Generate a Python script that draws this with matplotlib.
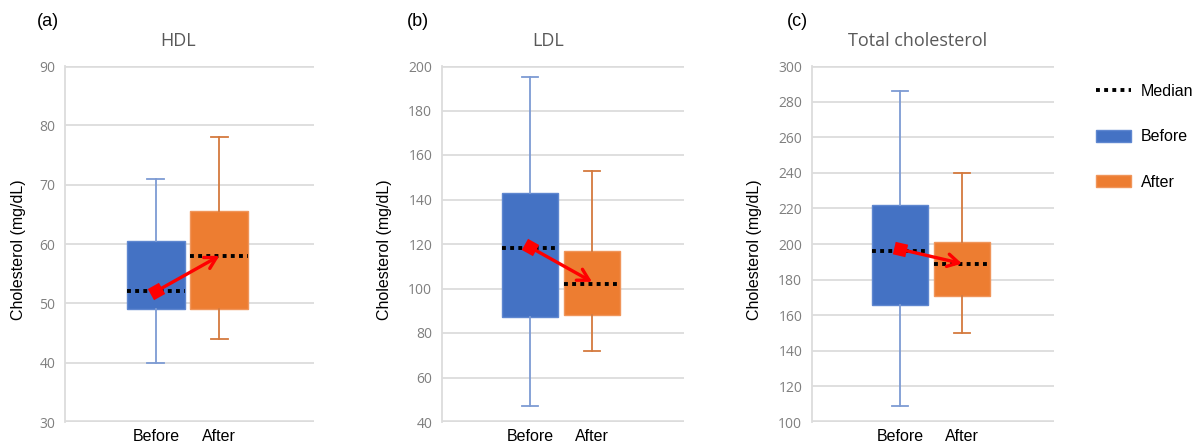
import math
import matplotlib
matplotlib.use("Agg")
import matplotlib.pyplot as plt
from matplotlib.lines import Line2D
from matplotlib.patches import Patch

# ---- data ----
panels = ["(a)", "(b)", "(c)"]
titles = ["HDL", "LDL", "Total cholesterol"]
groups = ["Before", "After"]
whislo = [[40, 44], [47, 72], [109, 150]]
q1 = [[49, 49], [87, 88], [166, 171]]
med = [[52, 58], [118, 102], [196, 188.5]]
q3 = [[60.5, 65.5], [143, 117], [222, 201]]
whishi = [[71, 78], [195, 153], [286, 240]]
means = [[52, 58], [118.5, 103], [197, 189]]
ylims = [(30, 90), (40, 200), (100, 300)]
ysteps = [10, 20, 20]

# ---- style ----
W, H = 1194, 447
fig = plt.figure(figsize=(W / 100, H / 100), dpi=100)
fill = ["#4472C4", "#ED7D31"]
edge = ["#5f87d0", "#f0955a"]
whisk = ["#7d9bd3", "#d47a3e"]
grid_c = "#dcdcdc"
label_font = "Liberation Sans"
tick_font = "Open Sans"

ax_px = [(65, 314), (442, 684), (812, 1054)]
top_px, bot_px = 66, 422
title_x = [178, 548, 918]
panel_x = [48, 418, 797]
ylab_x = [19, 384, 754]
positions = [1.46, 2.48]

for i in range(3):
    l, r = ax_px[i]
    ax = fig.add_axes([l / W, (H - bot_px) / H, (r - l) / W, (bot_px - top_px) / H])
    stats = []
    for g in range(2):
        stats.append(dict(med=med[i][g], q1=q1[i][g], q3=q3[i][g],
                          whislo=whislo[i][g], whishi=whishi[i][g],
                          mean=means[i][g], label=groups[g]))
    for g in range(2):
        ax.bxp([stats[g]], positions=[positions[g]], widths=0.93,
               patch_artist=True, showfliers=False, showmeans=False,
               capwidths=0.27,
               boxprops=dict(facecolor=fill[g], edgecolor=edge[g], linewidth=1.0),
               whiskerprops=dict(color=whisk[g], linewidth=1.3),
               capprops=dict(color=whisk[g], linewidth=1.3),
               medianprops=dict(color="black", linewidth=2.8, linestyle=(0, (1, 1.1))),
               zorder=2)
    lo, hi = ylims[i]
    ax.set_ylim(lo, hi)
    ax.set_xlim(0, 4)
    ax.set_yticks(list(range(lo, hi + 1, ysteps[i])))
    ax.set_xticks(positions)
    ax.set_xticklabels(groups, fontfamily=label_font, fontsize=11.5, color="black")
    for t in ax.get_yticklabels():
        t.set_fontfamily(tick_font)
        t.set_fontsize(10)
        t.set_color("#7f7f7f")
    ax.tick_params(axis="both", length=0)
    ax.tick_params(axis="y", pad=7)
    ax.tick_params(axis="x", pad=5)
    ax.grid(axis="y", color=grid_c, linewidth=1.3, zorder=0)
    ax.set_axisbelow(True)
    for s in ["right", "top", "bottom"]:
        ax.spines[s].set_visible(False)
    ax.spines["left"].set_color(grid_c)
    ax.spines["left"].set_linewidth(1.3)
    ax.axhline(lo, color=grid_c, linewidth=2.6, zorder=0)
    ax.axhline(hi, color=grid_c, linewidth=2.6, zorder=0)

    # mean change arrow
    x0, x1 = positions
    y0, y1 = means[i]
    ax.annotate("", xy=(x1, y1), xytext=(x0, y0),
                arrowprops=dict(arrowstyle="->,head_length=0.8,head_width=0.45",
                                color="#ff0000", lw=2.4, shrinkA=0, shrinkB=0),
                zorder=5)
    p0 = ax.transData.transform((x0, y0))
    p1 = ax.transData.transform((x1, y1))
    ang = math.degrees(math.atan2(p1[1] - p0[1], p1[0] - p0[0]))
    ax.plot([x0], [y0], marker=(4, 0, ang - 45), markersize=13,
            color="#ff0000", markeredgewidth=0, zorder=6)

    fig.text(title_x[i] / W, 1 - 41 / H, titles[i], ha="center", va="center",
             fontfamily=tick_font, fontsize=13, color="#595959")
    fig.text(panel_x[i] / W, 1 - 22 / H, panels[i], ha="center", va="center",
             fontfamily=label_font, fontsize=13, color="black")
    fig.text(ylab_x[i] / W, 1 - 250 / H, "Cholesterol (mg/dL)", ha="center",
             va="center", rotation=90, fontfamily=label_font, fontsize=11.5,
             color="black")

handles = [Line2D([], [], color="black", linewidth=2.8, linestyle=(0, (1, 1.1))),
           Patch(facecolor=fill[0], edgecolor=edge[0]),
           Patch(facecolor=fill[1], edgecolor=edge[1])]
fig.legend(handles, ["Median", "Before", "After"], loc="upper left",
           bbox_to_anchor=(1096 / W, 1 - 84 / H), frameon=False,
           prop=dict(family=label_font, size=11.5), borderpad=0,
           borderaxespad=0, handlelength=2.2, handleheight=0.8,
           handletextpad=0.6, labelspacing=1.9)

fig.savefig("out.png", dpi=100)
